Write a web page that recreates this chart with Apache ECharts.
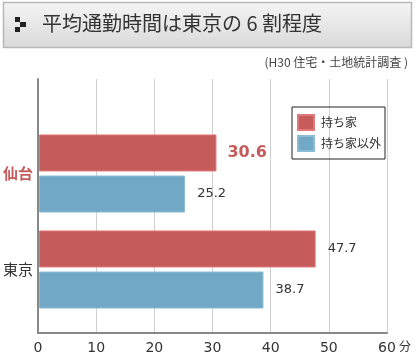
<!DOCTYPE html>
<html>
<head>
<meta charset="utf-8">
<script src="https://cdn.jsdelivr.net/npm/echarts@6/dist/echarts.min.js"></script>
<style>
html,body{margin:0;padding:0;background:#fff;}
#c{width:415px;height:360px;}
</style>
</head>
<body>
<div id="c"></div>
<script>
const titleText = '平均通勤時間は東京の 6 割程度';
const sourceText = '(H30 住宅・土地統計調査 )';
const categories = ['仙台', '東京'];
const seriesNames = ['持ち家', '持ち家以外'];
const ownedValues = [30.6, 47.7];
const otherValues = [25.2, 38.7];
const xTicks = [0, 10, 20, 30, 40, 50, 60];
const unitText = '分';

const RED = '#c55b5b';
const BLUE = '#70a8c5';
const FONT = '"DejaVu Sans","Noto Sans CJK JP",sans-serif';
const JFONT = '"Noto Sans CJK JP",sans-serif';

const chart = echarts.init(document.getElementById('c'), null, {renderer: 'canvas'});

function labelFor(idx, seriesIdx) {
  if (idx === 0 && seriesIdx === 0) {
    return {show: true, position: 'right', distance: 11, color: RED, fontSize: 16, fontWeight: 'bold', fontFamily: FONT};
  }
  return {show: true, position: 'right', distance: 12, color: '#333', fontSize: 13, fontFamily: FONT};
}

const option = {
  animation: false,
  backgroundColor: '#fff',
  legend: {
    data: seriesNames,
    orient: 'vertical',
    left: 292, top: 107,
    itemWidth: 16, itemHeight: 15, itemGap: 4,
    padding: [7, 4, 7, 5],
    borderColor: '#222', borderWidth: 1,
    icon: 'rect',
    textStyle: {fontSize: 12, color: '#333', fontFamily: JFONT, padding: [0, 0, 0, 2]}
  },
  grid: [
    {left: 38, right: 28, top: 79, bottom: 27, containLabel: false},
    {left: 38, right: 28, top: 125.5, bottom: 42.5, containLabel: false}
  ],
  xAxis: [
    {
      gridIndex: 0, type: 'value', min: xTicks[0], max: xTicks[xTicks.length - 1], interval: 10,
      axisLine: {show: true, lineStyle: {color: '#888', width: 2}},
      axisTick: {show: false},
      splitLine: {show: true, lineStyle: {color: '#cfcfcf', width: 1}},
      axisLabel: {color: '#333', fontSize: 14, fontFamily: FONT, margin: 8}
    },
    {
      gridIndex: 1, type: 'value', min: 0, max: 60, show: false
    }
  ],
  yAxis: [
    {
      gridIndex: 0, type: 'value', min: 0, max: 1,
      axisLine: {show: true, lineStyle: {color: '#888', width: 2}},
      axisTick: {show: false}, axisLabel: {show: false}, splitLine: {show: false}
    },
    {
      gridIndex: 1, type: 'category', data: categories, inverse: true,
      axisLine: {show: false}, axisTick: {show: false},
      axisLabel: {
        margin: 6,
        formatter: function (v, i) { return i === 0 ? '{a|' + v + '}' : '{b|' + v + '}'; },
        rich: {
          a: {color: RED, fontSize: 15, fontWeight: 'bold', fontFamily: JFONT},
          b: {color: '#333', fontSize: 15, fontFamily: JFONT}
        }
      }
    }
  ],
  series: [
    {
      name: seriesNames[0], type: 'bar', xAxisIndex: 1, yAxisIndex: 1,
      barWidth: 37, barGap: '11%',
      itemStyle: {color: RED, borderColor: '#e07a7a', borderWidth: 1},
      data: ownedValues.map((v, i) => ({value: v, label: labelFor(i, 0)}))
    },
    {
      name: seriesNames[1], type: 'bar', xAxisIndex: 1, yAxisIndex: 1,
      barWidth: 37, barGap: '11%',
      itemStyle: {color: BLUE, borderColor: '#8cbcd4', borderWidth: 1},
      data: otherValues.map((v, i) => ({value: v, label: labelFor(i, 1)}))
    }
  ],
  graphic: [
    {
      type: 'rect', shape: {x: 3.5, y: 2.5, width: 408, height: 45}, z: 0,
      style: {
        fill: new echarts.graphic.LinearGradient(0, 0, 0, 1, [
          {offset: 0, color: '#f5f5f5'}, {offset: 1, color: '#d9d9d9'}
        ]),
        stroke: '#b8b8b8', lineWidth: 1.5
      }
    },
    {type: 'rect', shape: {x: 15, y: 17, width: 5, height: 5}, style: {fill: '#222'}},
    {type: 'rect', shape: {x: 20, y: 22, width: 6, height: 5}, style: {fill: '#222'}},
    {type: 'rect', shape: {x: 15, y: 27, width: 5, height: 5}, style: {fill: '#222'}},
    {
      type: 'text', left: 42, top: 13,
      style: {text: titleText, fontSize: 20, fill: '#333', fontFamily: JFONT}
    },
    {
      type: 'text', right: 7, top: 56,
      style: {text: sourceText, fontSize: 12, fill: '#444', fontFamily: JFONT}
    },
    {
      type: 'text', left: 399, top: 340,
      style: {text: unitText, fontSize: 12, fill: '#333', fontFamily: JFONT}
    }
  ]
};
chart.setOption(option);
</script>
</body>
</html>
